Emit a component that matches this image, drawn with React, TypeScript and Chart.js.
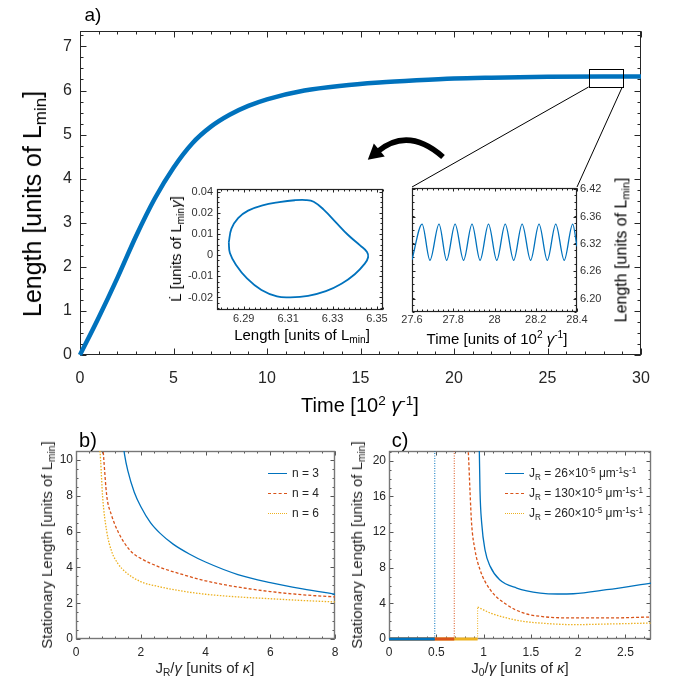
import React, { useEffect, useRef } from "react";
import { Chart, registerables } from "chart.js";
Chart.register(...registerables);

const BLUE = "#0072BD";
const RED = "#D95319";
const YEL = "#EDB120";
const FONT = "'Liberation Sans', Arial, sans-serif";

// ---------- Panel a: growth curve ----------
const timeA = [0, 1, 2, 3, 4, 5, 6, 7, 8, 9, 10, 12, 14, 16, 18, 20, 22, 25, 28, 30];
const lengthA = [0, 0.85, 1.75, 2.7, 3.55, 4.25, 4.8, 5.18, 5.45, 5.65, 5.8, 6.0, 6.11, 6.18, 6.23, 6.27, 6.29, 6.31, 6.32, 6.32];
const xTicksA = [0, 5, 10, 15, 20, 25, 30];
const yTicksA = [0, 1, 2, 3, 4, 5, 6, 7];
const zoomBoxA = { t0: 27.2, t1: 29.0, l0: 6.08, l1: 6.49 };

// ---------- Inset 1: phase portrait ----------
const phaseLength = [6.2833, 6.2845, 6.2875, 6.292, 6.2985, 6.306, 6.313, 6.318, 6.3215, 6.326, 6.3315, 6.337, 6.3425, 6.3455, 6.346, 6.3445, 6.34, 6.334, 6.327, 6.319, 6.311, 6.305, 6.298, 6.2915, 6.2865, 6.2838, 6.2833];
const phaseRate = [0.006, 0.0125, 0.0175, 0.021, 0.0235, 0.025, 0.0259, 0.026, 0.0252, 0.0215, 0.0155, 0.0095, 0.0045, 0.0015, -0.001, -0.004, -0.009, -0.0135, -0.017, -0.0192, -0.0199, -0.0195, -0.0165, -0.011, -0.0045, 0.001, 0.006];
const xTicksP = [6.29, 6.31, 6.33, 6.35];
const yTicksP = [-0.02, -0.01, 0, 0.01, 0.02, 0.03];
const yLabelsP = ["-0.02", "-0.01", "0", "0.01", "0.02", "0.04"];

// ---------- Inset 2: oscillation ----------
const oscTime = [27.6, 27.649, 27.687, 27.731, 27.768, 27.809, 27.85, 27.891, 27.93, 27.971, 28.011, 28.052, 28.093, 28.134, 28.175, 28.216, 28.256, 28.297, 28.338, 28.379, 28.4];
const oscLength = [6.278, 6.35, 6.277, 6.35, 6.277, 6.35, 6.277, 6.35, 6.277, 6.35, 6.277, 6.35, 6.277, 6.35, 6.277, 6.35, 6.277, 6.35, 6.277, 6.35, 6.305];
const xTicksO = [27.6, 27.8, 28, 28.2, 28.4];
const yTicksO = [6.2, 6.255, 6.31, 6.365, 6.42];
const yLabelsO = ["6.20", "6.26", "6.32", "6.36", "6.42"];

// ---------- Panel b ----------
const jrN3 = [1.45, 1.5, 1.6, 1.8, 2.0, 2.3, 2.6, 3.0, 3.5, 4.0, 5.0, 6.0, 7.0, 8.0];
const lenN3 = [11.0, 10.3, 9.4, 8.2, 7.4, 6.5, 5.9, 5.3, 4.75, 4.3, 3.6, 3.15, 2.8, 2.5];
const jrN4 = [0.82, 0.86, 0.95, 1.1, 1.2, 1.31, 1.5, 1.75, 2.0, 2.6, 3.2, 4, 5, 6, 7, 8];
const lenN4 = [11, 10, 8, 6.9, 6.4, 5.95, 5.35, 4.8, 4.5, 4.0, 3.65, 3.25, 2.9, 2.65, 2.47, 2.35];
const jrN6 = [0.72, 0.76, 0.82, 0.95, 1.1, 1.3, 1.56, 2.0, 2.5, 3.2, 4, 5, 6, 7, 8];
const lenN6 = [11, 10, 8, 6, 4.9, 4.2, 3.7, 3.2, 2.95, 2.7, 2.5, 2.35, 2.25, 2.15, 2.07];
const xTicksB = [0, 2, 4, 6, 8];
const yTicksB = [0, 2, 4, 6, 8, 10];
const legendB = ["n = 3", "n = 4", "n = 6"];

// ---------- Panel c ----------
const j0Blue = [0.953, 0.955, 0.962, 0.98, 1.015, 1.07, 1.17, 1.35, 1.6, 1.78, 1.95, 2.3, 2.77];
const lenBlue = [21.5, 21.1, 16.7, 13, 10, 8.15, 6.65, 5.72, 5.16, 5.05, 5.08, 5.53, 6.28];
const j0Red = [0.835, 0.838, 0.856, 0.873, 0.909, 0.962, 1.07, 1.245, 1.42, 1.6, 1.95, 2.3, 2.77];
const lenRed = [21.5, 21.1, 16.7, 13, 10, 7.78, 5.53, 3.85, 2.92, 2.54, 2.36, 2.36, 2.47];
const j0Yel = [0.937, 1.07, 1.245, 1.42, 1.6, 1.95, 2.3, 2.77];
const lenYel = [3.59, 2.92, 2.36, 1.98, 1.79, 1.61, 1.68, 1.79];
const thresholdsC = [0.484, 0.69, 0.937];
const xTicksC = [0, 0.5, 1, 1.5, 2, 2.5];
const yTicksC = [0, 4, 8, 12, 16, 20];
const jrValuesC = ["26", "130", "260"];

// ---------- layout (pixels) ----------
const INSET2 = { left: 412, top: 187, right: 577, bottom: 312 };

const pts = (xs: number[], ys: number[]) => xs.map((x, i) => ({ x, y: ys[i] }));

function axis(o: {
  pos: string; min: number; max: number; ticks: number[]; labels?: string[];
  size: number; font: number; color: string; pad: number;
}) {
  const horiz = o.pos === "bottom" || o.pos === "top";
  return {
    type: "linear",
    position: o.pos,
    min: o.min,
    max: o.max,
    grid: { display: false, drawTicks: false },
    border: { display: false },
    ticks: {
      autoSkip: false,
      maxRotation: 0,
      minRotation: 0,
      padding: o.pad,
      color: o.color,
      font: { family: FONT, size: o.font },
      callback: (v: number) => {
        const i = o.ticks.findIndex((t) => Math.abs(t - v) < 1e-9);
        return o.labels && i >= 0 ? o.labels[i] : String(v);
      },
    },
    afterBuildTicks: (s: any) => {
      s.ticks = o.ticks.map((v) => ({ value: v }));
    },
    afterFit: (s: any) => {
      if (horiz) s.height = o.size;
      else s.width = o.size;
    },
  };
}

function framePlugin(cfg: {
  color: string; width: number; tickColor: string; majorLen: number; minorLen: number;
  xMinor: number; yMinor: number;
}) {
  return {
    id: "frameTicks",
    beforeDatasetsDraw(chart: any) {
      const { ctx, chartArea: a, scales } = chart;
      const xs = scales.x;
      const ys = scales.y;
      const L = Math.round(a.left) + 0.5;
      const R = Math.round(a.right) - 0.5;
      const T = Math.round(a.top) + 0.5;
      const B = Math.round(a.bottom) - 0.5;
      const minor = (min: number, max: number, step: number) => {
        const out: number[] = [];
        const s0 = Math.ceil(min / step - 1e-6);
        for (let i = s0; i * step <= max + 1e-9; i++) out.push(i * step);
        return out;
      };
      ctx.save();
      ctx.strokeStyle = cfg.tickColor;
      ctx.lineWidth = 1;
      ctx.beginPath();
      const xTick = (v: number, len: number) => {
        const p = Math.round(xs.getPixelForValue(v)) + 0.5;
        ctx.moveTo(p, B); ctx.lineTo(p, B - len);
        ctx.moveTo(p, T); ctx.lineTo(p, T + len);
      };
      const yTick = (v: number, len: number) => {
        const p = Math.round(ys.getPixelForValue(v)) + 0.5;
        ctx.moveTo(L, p); ctx.lineTo(L + len, p);
        ctx.moveTo(R, p); ctx.lineTo(R - len, p);
      };
      minor(xs.min, xs.max, cfg.xMinor).forEach((v) => xTick(v, cfg.minorLen));
      minor(ys.min, ys.max, cfg.yMinor).forEach((v) => yTick(v, cfg.minorLen));
      xs.ticks.forEach((t: any) => xTick(t.value, cfg.majorLen));
      ys.ticks.forEach((t: any) => yTick(t.value, cfg.majorLen));
      ctx.stroke();
      ctx.strokeStyle = cfg.color;
      ctx.lineWidth = cfg.width;
      ctx.strokeRect(L, T, R - L, B - T);
      ctx.restore();
    },
  };
}

const annotPlugin = {
  id: "annot",
  afterDraw(chart: any) {
    const { ctx, scales } = chart;
    const x = scales.x;
    const y = scales.y;
    const bx0 = x.getPixelForValue(zoomBoxA.t0);
    const bx1 = x.getPixelForValue(zoomBoxA.t1);
    const byB = y.getPixelForValue(zoomBoxA.l0);
    const byT = y.getPixelForValue(zoomBoxA.l1);
    ctx.save();
    ctx.strokeStyle = "#000";
    ctx.lineWidth = 1;
    ctx.strokeRect(Math.round(bx0) + 0.5, Math.round(byT) + 0.5, Math.round(bx1 - bx0), Math.round(byB - byT));
    ctx.beginPath();
    ctx.moveTo(bx0, byB);
    ctx.lineTo(INSET2.left, INSET2.top);
    ctx.moveTo(bx1, byB);
    ctx.lineTo(INSET2.right, INSET2.top);
    ctx.stroke();
    // curved arrow
    const s = { x: 443, y: 157 };
    const c = { x: 408, y: 126 };
    const e = { x: 377, y: 152 };
    ctx.lineWidth = 5.5;
    ctx.lineCap = "butt";
    ctx.beginPath();
    ctx.moveTo(s.x, s.y);
    ctx.quadraticCurveTo(c.x, c.y, e.x, e.y);
    ctx.stroke();
    const dx = e.x - c.x;
    const dy = e.y - c.y;
    const n = Math.hypot(dx, dy);
    const ux = dx / n;
    const uy = dy / n;
    const px = -uy;
    const py = ux;
    const bx = e.x - ux * 3;
    const by = e.y - uy * 3;
    ctx.fillStyle = "#000";
    ctx.beginPath();
    ctx.moveTo(e.x + ux * 12, e.y + uy * 12);
    ctx.lineTo(bx + px * 8.5, by + py * 8.5);
    ctx.lineTo(bx - px * 8.5, by - py * 8.5);
    ctx.closePath();
    ctx.fill();
    ctx.restore();
  },
};

function useChart(ref: React.RefObject<HTMLCanvasElement>, make: () => any) {
  useEffect(() => {
    if (!ref.current) return;
    const chart = new Chart(ref.current, make());
    return () => chart.destroy();
  }, []);
}

const baseOpts = (padding: any) => ({
  animation: false,
  responsive: false,
  maintainAspectRatio: false,
  layout: { padding },
  plugins: { legend: { display: false }, tooltip: { enabled: false } },
  elements: { point: { radius: 0 } },
});

const Sub = ({ children }: any) => (
  <span style={{ fontSize: "68%", verticalAlign: "-0.32em", lineHeight: 0 }}>{children}</span>
);
const Sup = ({ children }: any) => (
  <span style={{ fontSize: "68%", verticalAlign: "0.55em", lineHeight: 0 }}>{children}</span>
);
const Txt = ({ x, y, size, rot, color, children }: any) => (
  <div
    style={{
      position: "absolute",
      left: x,
      top: y,
      transform: `translate(-50%, -50%)${rot ? " rotate(-90deg)" : ""}`,
      fontFamily: FONT,
      fontSize: size,
      lineHeight: 1.2,
      whiteSpace: "nowrap",
      color: color || "#000",
    }}
  >
    {children}
  </div>
);

const LegendRow = ({ x, y, color, style, children }: any) => (
  <div style={{ position: "absolute", left: x, top: y - 8, height: 16, display: "flex", alignItems: "center", fontFamily: FONT, fontSize: 12, color: "#262626", whiteSpace: "nowrap" }}>
    <div style={{ width: 19, height: 0, borderTop: `1.5px ${style} ${color}`, marginRight: 5 }} />
    <div>{children}</div>
  </div>
);

const canvasStyle = (l: number, t: number, w: number, h: number): React.CSSProperties => ({
  position: "absolute", left: l, top: t, width: w, height: h,
});

export default function App() {
  const refA = useRef<HTMLCanvasElement>(null);
  const refP = useRef<HTMLCanvasElement>(null);
  const refO = useRef<HTMLCanvasElement>(null);
  const refB = useRef<HTMLCanvasElement>(null);
  const refC = useRef<HTMLCanvasElement>(null);

  useChart(refA, () => ({
    type: "line",
    data: {
      datasets: [
        { data: pts(timeA, lengthA), borderColor: BLUE, borderWidth: 4.5, pointRadius: 0, cubicInterpolationMode: "monotone", clip: 4 },
      ],
    },
    options: {
      ...baseOpts({ top: 31, right: 32, left: 0, bottom: 0 }),
      scales: {
        x: axis({ pos: "bottom", min: 0, max: 30, ticks: xTicksA, size: 45, font: 16, color: "#262626", pad: 14 }),
        y: axis({ pos: "left", min: 0, max: 7.35, ticks: yTicksA, size: 80, font: 16, color: "#262626", pad: 8 }),
      },
    },
    plugins: [framePlugin({ color: "#262626", width: 1, tickColor: "#262626", majorLen: 6, minorLen: 3, xMinor: 1, yMinor: 0.25 }), annotPlugin],
  }));

  useChart(refP, () => ({
    type: "scatter",
    data: { datasets: [{ data: pts(phaseLength, phaseRate), showLine: true, borderColor: BLUE, borderWidth: 1.8, pointRadius: 0, tension: 0.4 }] },
    options: {
      ...baseOpts({ top: 9, right: 7, left: 0, bottom: 0 }),
      scales: {
        x: axis({ pos: "bottom", min: 6.278, max: 6.3527, ticks: xTicksP, size: 15, font: 11, color: "#333", pad: 2 }),
        y: axis({ pos: "left", min: -0.0259, max: 0.0314, ticks: yTicksP, labels: yLabelsP, size: 47, font: 11, color: "#333", pad: 4 }),
      },
    },
    plugins: [framePlugin({ color: "#222", width: 1.2, tickColor: "#222", majorLen: 3, minorLen: 2, xMinor: 0.0025, yMinor: 0.0025 })],
  }));

  useChart(refO, () => ({
    type: "line",
    data: { datasets: [{ data: pts(oscTime, oscLength), borderColor: BLUE, borderWidth: 1.3, pointRadius: 0, cubicInterpolationMode: "monotone" }] },
    options: {
      ...baseOpts({ top: 9, right: 0, left: 12, bottom: 0 }),
      scales: {
        x: axis({ pos: "bottom", min: 27.6, max: 28.4, ticks: xTicksO, size: 13, font: 11, color: "#333", pad: 1 }),
        y: axis({ pos: "right", min: 6.173, max: 6.4233, ticks: yTicksO, labels: yLabelsO, size: 38, font: 11, color: "#333", pad: 3 }),
      },
    },
    plugins: [framePlugin({ color: "#222", width: 1.2, tickColor: "#222", majorLen: 3, minorLen: 2, xMinor: 0.025, yMinor: 0.01375 })],
  }));

  useChart(refB, () => ({
    type: "line",
    data: {
      datasets: [
        { data: pts(jrN3, lenN3), borderColor: BLUE, borderWidth: 1.3, pointRadius: 0, cubicInterpolationMode: "monotone" },
        { data: pts(jrN4, lenN4), borderColor: RED, borderWidth: 1.3, borderDash: [3, 2], pointRadius: 0, cubicInterpolationMode: "monotone" },
        { data: pts(jrN6, lenN6), borderColor: YEL, borderWidth: 1.3, borderDash: [1.5, 1.5], pointRadius: 0, cubicInterpolationMode: "monotone" },
      ],
    },
    options: {
      ...baseOpts({ top: 11, right: 10, left: 0, bottom: 0 }),
      scales: {
        x: axis({ pos: "bottom", min: 0, max: 8, ticks: xTicksB, size: 26, font: 12, color: "#262626", pad: 6 }),
        y: axis({ pos: "left", min: 0, max: 10.5, ticks: yTicksB, size: 76, font: 12, color: "#262626", pad: 3 }),
      },
    },
    plugins: [framePlugin({ color: "#777", width: 1.4, tickColor: "#555", majorLen: 4, minorLen: 2, xMinor: 0.4, yMinor: 0.5 })],
  }));

  useChart(refC, () => ({
    type: "line",
    data: {
      datasets: [
        { data: pts(j0Blue, lenBlue), borderColor: BLUE, borderWidth: 1.3, pointRadius: 0, cubicInterpolationMode: "monotone" },
        { data: pts(j0Red, lenRed), borderColor: RED, borderWidth: 1.3, borderDash: [3, 2], pointRadius: 0, cubicInterpolationMode: "monotone" },
        { data: pts(j0Yel, lenYel), borderColor: YEL, borderWidth: 1.3, borderDash: [1.5, 1.5], pointRadius: 0, cubicInterpolationMode: "monotone" },
        { data: [{ x: 0, y: 0 }, { x: thresholdsC[0], y: 0 }], borderColor: BLUE, borderWidth: 3, pointRadius: 0, clip: 4 },
        { data: [{ x: 0, y: 0 }, { x: thresholdsC[1], y: 0 }], borderColor: RED, borderWidth: 3, pointRadius: 0, clip: 4 },
        { data: [{ x: 0, y: 0 }, { x: thresholdsC[2], y: 0 }], borderColor: YEL, borderWidth: 3, pointRadius: 0, clip: 4 },
        { data: [{ x: thresholdsC[0], y: 0 }, { x: thresholdsC[0], y: 21.1 }], borderColor: BLUE, borderWidth: 1, borderDash: [1, 1.5], pointRadius: 0 },
        { data: [{ x: thresholdsC[1], y: 0 }, { x: thresholdsC[1], y: 21.1 }], borderColor: RED, borderWidth: 1, borderDash: [1, 1.5], pointRadius: 0 },
        { data: [{ x: thresholdsC[2], y: 0 }, { x: thresholdsC[2], y: lenYel[0] }], borderColor: YEL, borderWidth: 1, borderDash: [1, 1.5], pointRadius: 0 },
      ],
    },
    options: {
      ...baseOpts({ top: 11, right: 22, left: 0, bottom: 0 }),
      scales: {
        x: axis({ pos: "bottom", min: 0, max: 2.77, ticks: xTicksC, size: 26, font: 12, color: "#262626", pad: 6 }),
        y: axis({ pos: "left", min: 0, max: 21.1, ticks: yTicksC, size: 44, font: 12, color: "#262626", pad: 3 }),
      },
    },
    plugins: [framePlugin({ color: "#777", width: 1.4, tickColor: "#555", majorLen: 4, minorLen: 2, xMinor: 0.1, yMinor: 1 })],
  }));

  const bColors = [BLUE, RED, YEL];
  const bStyles = ["solid", "dashed", "dotted"];

  return (
    <div style={{ position: "absolute", left: 0, top: 0, width: 673, height: 685, background: "#fff", overflow: "hidden" }}>
      <canvas ref={refA} width={673} height={400} style={canvasStyle(0, 0, 673, 400)} />
      <canvas ref={refP} width={220} height={147} style={canvasStyle(170, 178, 220, 147)} />
      <canvas ref={refO} width={215} height={147} style={canvasStyle(400, 178, 215, 147)} />
      <canvas ref={refB} width={345} height={225} style={canvasStyle(0, 440, 345, 225)} />
      <canvas ref={refC} width={328} height={225} style={canvasStyle(345, 440, 328, 225)} />

      {/* panel a texts */}
      <Txt x={93} y={15} size={19}>a)</Txt>
      <Txt x={32} y={204} size={25} rot>Length [units of L<Sub>min</Sub>]</Txt>
      <Txt x={360} y={405} size={20}>Time [10<Sup>2</Sup> <i>γ</i><Sup>-1</Sup>]</Txt>
      <Txt x={176} y={249} size={15} rot>L&#775; [units of L<Sub>min</Sub><i>γ</i>]</Txt>
      <Txt x={302} y={335} size={15}>Length [units of L<Sub>min</Sub>]</Txt>
      <Txt x={497} y={339} size={15}>Time [units of 10<Sup>2</Sup> <i>γ</i><Sup>-1</Sup>]</Txt>
      <Txt x={621} y={250} size={16} rot>Length [units of L<Sub>min</Sub>]</Txt>

      {/* panel b texts */}
      <Txt x={88} y={440} size={20}>b)</Txt>
      <Txt x={47} y={545} size={15} rot color="#262626">Stationary Length [units of L<Sub>min</Sub>]</Txt>
      <Txt x={205} y={668} size={15} color="#262626">J<Sub>R</Sub>/<i>γ</i> [units of <i>κ</i>]</Txt>
      {legendB.map((t, i) => (
        <LegendRow key={t} x={268} y={473 + i * 20} color={bColors[i]} style={bStyles[i]}>{t}</LegendRow>
      ))}

      {/* panel c texts */}
      <Txt x={400} y={440} size={20}>c)</Txt>
      <Txt x={357} y={545} size={15} rot color="#262626">Stationary Length [units of L<Sub>min</Sub>]</Txt>
      <Txt x={520} y={668} size={15} color="#262626">J<Sub>0</Sub>/<i>γ</i> [units of <i>κ</i>]</Txt>
      {jrValuesC.map((v, i) => (
        <LegendRow key={v} x={505} y={473 + i * 20} color={bColors[i]} style={bStyles[i]}>
          J<Sub>R</Sub> = {v}×10<Sup>-5</Sup> μm<Sup>-1</Sup>s<Sup>-1</Sup>
        </LegendRow>
      ))}
    </div>
  );
}
